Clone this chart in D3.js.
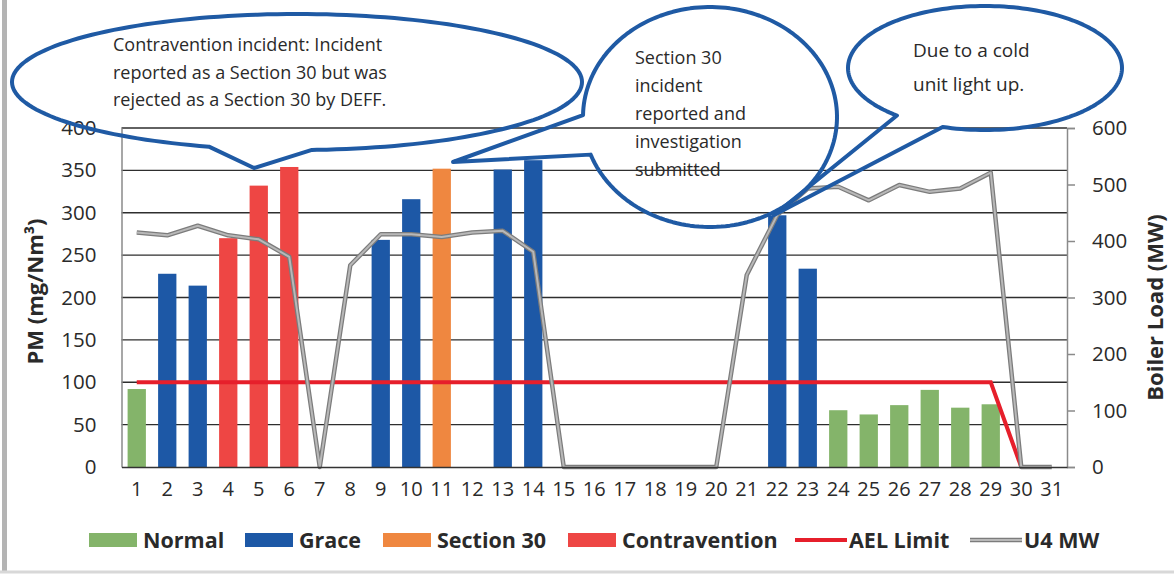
<!DOCTYPE html>
<html>
<head>
<meta charset="utf-8">
<script src="https://cdn.jsdelivr.net/npm/d3@7"></script>
<style>
  body { margin: 0; background: #fff; }
  text { font-family: "Open Sans", sans-serif; fill: #2a2a2a; }
</style>
</head>
<body>
<div id="chart"></div>
<script>
// days of the month
var days = ["1","2","3","4","5","6","7","8","9","10","11","12","13","14","15","16",
            "17","18","19","20","21","22","23","24","25","26","27","28","29","30","31"];

// PM per day (mg/Nm3), null = no bar
var pm = [92, 228, 214, 270, 332, 354, null, null, 268, 316, 352, null, 351, 362,
          null, null, null, null, null, null, null, 297, 234, 67, 62, 73, 91, 70, 74, null, null];

// status of each day's bar
var dayStatus = ["Normal","Grace","Grace","Contravention","Contravention","Contravention",null,null,
                 "Grace","Grace","Section 30",null,"Grace","Grace",null,null,null,null,null,null,null,
                 "Grace","Grace","Normal","Normal","Normal","Normal","Normal","Normal",null,null];

// AEL limit (mg/Nm3)
var ael = [100,100,100,100,100,100,100,100,100,100,100,100,100,100,100,100,
           100,100,100,100,100,100,100,100,100,100,100,100,100,0,null];

// U4 boiler load (MW)
var u4 = [415, 410, 427, 410, 403, 372, 0, 357, 412, 412, 407, 415, 418, 381, 0, 0,
          0, 0, 0, 0, 340, 446, 493, 496, 472, 499, 487, 493, 521, 0, 0];

var pmTicks = [0, 50, 100, 150, 200, 250, 300, 350, 400];
var mwTicks = [0, 100, 200, 300, 400, 500, 600];

var legendItems = ["Normal", "Grace", "Section 30", "Contravention", "AEL Limit", "U4 MW"];

var colors = {
    "Normal": "#84b46a",
    "Grace": "#1d58a6",
    "Section 30": "#ef8740",
    "Contravention": "#ee4644",
    "AEL Limit": "#e61f2b",
    "U4 MW": "#9a9a9a"
};

function main() {
    var W = 1174, H = 577;
    var margin = {top: 128, right: 107, bottom: 110, left: 121.5},
        width = W - margin.left - margin.right,
        height = H - margin.top - margin.bottom;

    var svg = d3.select("#chart").append("svg")
        .attr("width", W)
        .attr("height", H);

    // scanned page edge
    svg.append("rect").attr("x", 2).attr("y", 0).attr("width", 5).attr("height", 571)
        .attr("fill", "#b4b4b4");
    svg.append("line").attr("x1", 0).attr("x2", W).attr("y1", 572).attr("y2", 572)
        .attr("stroke", "#d8d8d8").attr("stroke-width", 3);

    var g = svg.append("g")
        .attr("transform", "translate(" + margin.left + "," + margin.top + ")");

    var x = d3.scaleBand()
        .domain(days)
        .range([0, width])
        .paddingInner(0.4)
        .paddingOuter(0.2);

    var y = d3.scaleLinear().domain([0, 400]).range([height, 0]);
    var y2 = d3.scaleLinear().domain([0, 600]).range([height, 0]);

    // gridlines
    g.append("g")
        .selectAll("line")
        .data(pmTicks.filter(function (d) { return d > 0; }))
        .join("line")
        .attr("x1", 0)
        .attr("x2", width)
        .attr("y1", function (d) { return y(d); })
        .attr("y2", function (d) { return y(d); })
        .attr("stroke", "#2e2e2e")
        .attr("stroke-width", 1.4);

    // bars
    var barData = days.map(function (d, i) { return {day: d, v: pm[i], s: dayStatus[i]}; })
        .filter(function (d) { return d.v != null; });

    g.append("g")
        .selectAll("rect")
        .data(barData)
        .join("rect")
        .attr("x", function (d) { return x(d.day); })
        .attr("width", x.bandwidth())
        .attr("y", function (d) { return y(d.v); })
        .attr("height", function (d) { return height - y(d.v); })
        .attr("fill", function (d) { return colors[d.s]; });

    var cx = function (d, i) { return x(days[i]) + x.bandwidth() / 2; };

    // AEL limit line
    var aelLine = d3.line()
        .defined(function (d) { return d != null; })
        .x(cx)
        .y(function (d) { return y(d); });
    g.append("path")
        .datum(ael)
        .attr("d", aelLine)
        .attr("fill", "none")
        .attr("stroke", colors["AEL Limit"])
        .attr("stroke-width", 4);

    // U4 MW line (right axis)
    var mwLine = d3.line()
        .x(cx)
        .y(function (d) { return y2(d); });
    g.append("path")
        .datum(u4)
        .attr("d", mwLine)
        .attr("fill", "none")
        .attr("stroke", "#7c7c7c")
        .attr("stroke-width", 4.5)
        .attr("stroke-linejoin", "round");
    g.append("path")
        .datum(u4)
        .attr("d", mwLine)
        .attr("fill", "none")
        .attr("stroke", "#b8b8b8")
        .attr("stroke-width", 2)
        .attr("stroke-linejoin", "round");

    // left axis
    var yAxis = g.append("g")
        .call(d3.axisLeft(y).tickValues(pmTicks).tickSize(0).tickPadding(25));
    yAxis.select(".domain").attr("stroke", "#8a8a8a").attr("stroke-width", 1.5);
    yAxis.selectAll("text").attr("font-size", "20.5px").attr("fill", "#2a2a2a")
        .attr("font-family", "Open Sans");

    // right axis
    var y2Axis = g.append("g")
        .attr("transform", "translate(" + width + ",0)")
        .call(d3.axisRight(y2).tickValues(mwTicks).tickSize(8).tickPadding(17));
    y2Axis.select(".domain").attr("stroke", "#8a8a8a").attr("stroke-width", 1.5);
    y2Axis.selectAll("line").attr("stroke", "#8a8a8a").attr("stroke-width", 1.5);
    y2Axis.selectAll("text").attr("font-size", "20.5px").attr("fill", "#2a2a2a")
        .attr("font-family", "Open Sans");

    // bottom axis
    var xAxis = g.append("g")
        .attr("transform", "translate(0," + height + ")")
        .call(d3.axisBottom(x).tickSize(0).tickPadding(15).tickSizeOuter(0));
    xAxis.select(".domain").attr("stroke", "#333").attr("stroke-width", 1.5);
    xAxis.selectAll("text").attr("font-size", "20px").attr("fill", "#2a2a2a")
        .attr("font-family", "Open Sans");

    // axis titles
    svg.append("text")
        .attr("transform", "translate(43," + (margin.top + height / 2 - 6) + ") rotate(-90)")
        .attr("text-anchor", "middle")
        .attr("font-size", "22px")
        .attr("font-weight", "bold")
        .text("PM (mg/Nm³)");

    svg.append("text")
        .attr("transform", "translate(1163," + (margin.top + height / 2 + 10) + ") rotate(-90)")
        .attr("text-anchor", "middle")
        .attr("font-size", "22px")
        .attr("font-weight", "bold")
        .text("Boiler Load (MW)");

    // legend
    var legendX = [89, 245, 383, 568, 795, 970];
    var legend = svg.append("g").attr("transform", "translate(0,540)");
    legendItems.forEach(function (name, i) {
        var lg = legend.append("g").attr("transform", "translate(" + legendX[i] + ",0)");
        if (name === "AEL Limit") {
            lg.append("line").attr("x1", 0).attr("x2", 52).attr("y1", 0).attr("y2", 0)
                .attr("stroke", colors[name]).attr("stroke-width", 4);
        } else if (name === "U4 MW") {
            lg.append("line").attr("x1", 0).attr("x2", 52).attr("y1", 0).attr("y2", 0)
                .attr("stroke", "#7c7c7c").attr("stroke-width", 4.5);
            lg.append("line").attr("x1", 0).attr("x2", 52).attr("y1", 0).attr("y2", 0)
                .attr("stroke", "#b8b8b8").attr("stroke-width", 2);
        } else {
            lg.append("rect").attr("x", 0).attr("y", -7).attr("width", 48).attr("height", 14)
                .attr("fill", colors[name]);
        }
        lg.append("text")
            .attr("x", 54)
            .attr("y", 0)
            .attr("dy", "0.36em")
            .attr("font-size", "21.5px")
            .attr("font-weight", "bold")
            .text(name);
    });

    // callouts: ellipse outline with a pointer wedge between angles a1..a2 (degrees)
    function callout(c) {
        var r = Math.PI / 180;
        var pts = [];
        for (var a = c.a2; a <= c.a1 + 360; a += 2) {
            pts.push([c.cx + c.rx * Math.cos(a * r), c.cy + c.ry * Math.sin(a * r)]);
        }
        pts.push([c.cx + c.rx * Math.cos(c.a1 * r), c.cy + c.ry * Math.sin(c.a1 * r)]);
        pts.push(c.tip);
        var path = d3.path();
        pts.forEach(function (p, i) {
            if (i === 0) path.moveTo(p[0], p[1]); else path.lineTo(p[0], p[1]);
        });
        path.closePath();
        svg.append("path")
            .attr("d", path.toString())
            .attr("fill", "none")
            .attr("stroke", "#1f5aa4")
            .attr("stroke-width", 4)
            .attr("stroke-linejoin", "round");
        var t = svg.append("text").attr("font-size", c.fs + "px").attr("fill", "#333");
        c.lines.forEach(function (l, i) {
            t.append("tspan").attr("x", c.tx).attr("y", c.ty + i * c.lh).text(l);
        });
    }

    callout({cx: 297, cy: 82, rx: 285, ry: 68, a1: 87, a2: 108, tip: [254, 168],
             tx: 113, ty: 51, lh: 27.5, fs: 18,
             lines: ["Contravention incident: Incident",
                     "reported as a Section 30 but was",
                     "rejected as a Section 30 by DEFF."]});

    callout({cx: 710, cy: 117, rx: 127, ry: 110, a1: 160, a2: 181, tip: [453, 162],
             tx: 635, ty: 64, lh: 28, fs: 18,
             lines: ["Section 30", "incident", "reported and", "investigation", "submitted"]});

    callout({cx: 985, cy: 68, rx: 137, ry: 62, a1: 108, a2: 130, tip: [774, 215],
             tx: 913, ty: 57, lh: 34, fs: 19,
             lines: ["Due to a cold", "unit light up."]});
}

main();
</script>
</body>
</html>
